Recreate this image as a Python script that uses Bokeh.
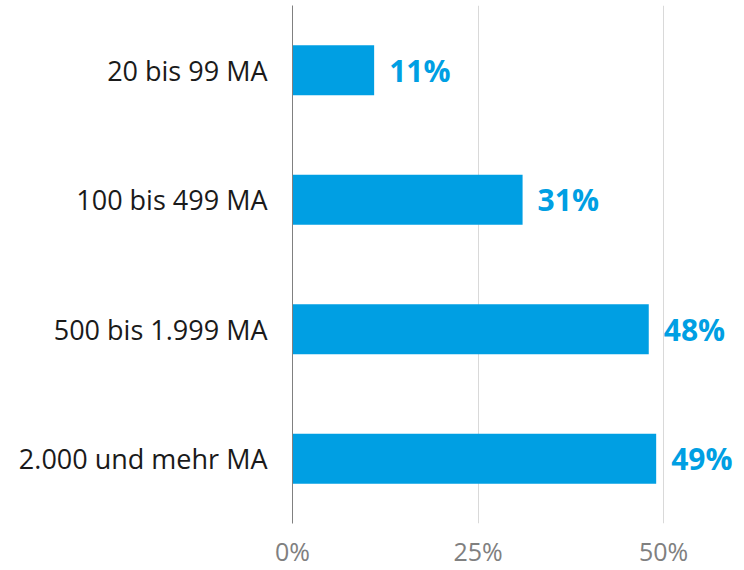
from bokeh.plotting import figure
from bokeh.models import FactorRange, Range1d, FixedTicker, ColumnDataSource
from bokeh.core.properties import value
from bokeh.embed import file_html
from bokeh.resources import INLINE

categories = ["20 bis 99 MA", "100 bis 499 MA", "500 bis 1.999 MA", "2.000 und mehr MA"]
values = [11, 31, 48, 49]
labels = ["11%", "31%", "48%", "49%"]
tick_values = [0, 25, 50]
tick_labels = ["0%", "25%", "50%"]

FONT = "Open Sans"
BLUE = "#009fe3"

src = ColumnDataSource(dict(cat=categories, val=values, lab=labels))

p = figure(width=744, height=570, output_backend="svg", toolbar_location=None,
           y_range=FactorRange(factors=categories[::-1], range_padding=0),
           x_range=Range1d(0, 60.9),
           min_border_left=292, min_border_right=0, min_border_top=5, min_border_bottom=0)
p.outline_line_color = None
p.background_fill_color = "white"
p.border_fill_color = "white"

p.hbar(y="cat", right="val", left=0, height=0.385, source=src, color=BLUE, line_color=None)
p.text(x="val", y="cat", text="lab", source=src, x_offset=15, text_baseline="middle",
       text_align="left", text_font=value(FONT), text_font_style="bold",
       text_font_size="30px", text_color=BLUE)

p.ygrid.grid_line_color = None
p.xgrid.ticker = FixedTicker(ticks=tick_values)
p.xgrid.grid_line_color = "#d9d9d9"
p.xgrid.grid_line_width = 1

p.xaxis.ticker = FixedTicker(ticks=tick_values)
p.xaxis.major_label_overrides = {t: l for t, l in zip(tick_values, tick_labels)}
p.xaxis.axis_line_color = None
p.xaxis.major_tick_line_color = None
p.xaxis.minor_tick_line_color = None
p.xaxis.major_label_standoff = 4
p.xaxis.major_label_text_font = FONT
p.xaxis.major_label_text_font_size = "25px"
p.xaxis.major_label_text_color = "#808080"

p.yaxis.axis_line_color = "#808080"
p.yaxis.axis_line_width = 1
p.yaxis.major_tick_line_color = None
p.yaxis.minor_tick_line_color = None
p.yaxis.major_label_standoff = 19
p.yaxis.major_label_text_font = FONT
p.yaxis.major_label_text_font_size = "27px"
p.yaxis.major_label_text_color = "#1a1a1a"

open("out.html", "w").write(file_html(p, INLINE))
